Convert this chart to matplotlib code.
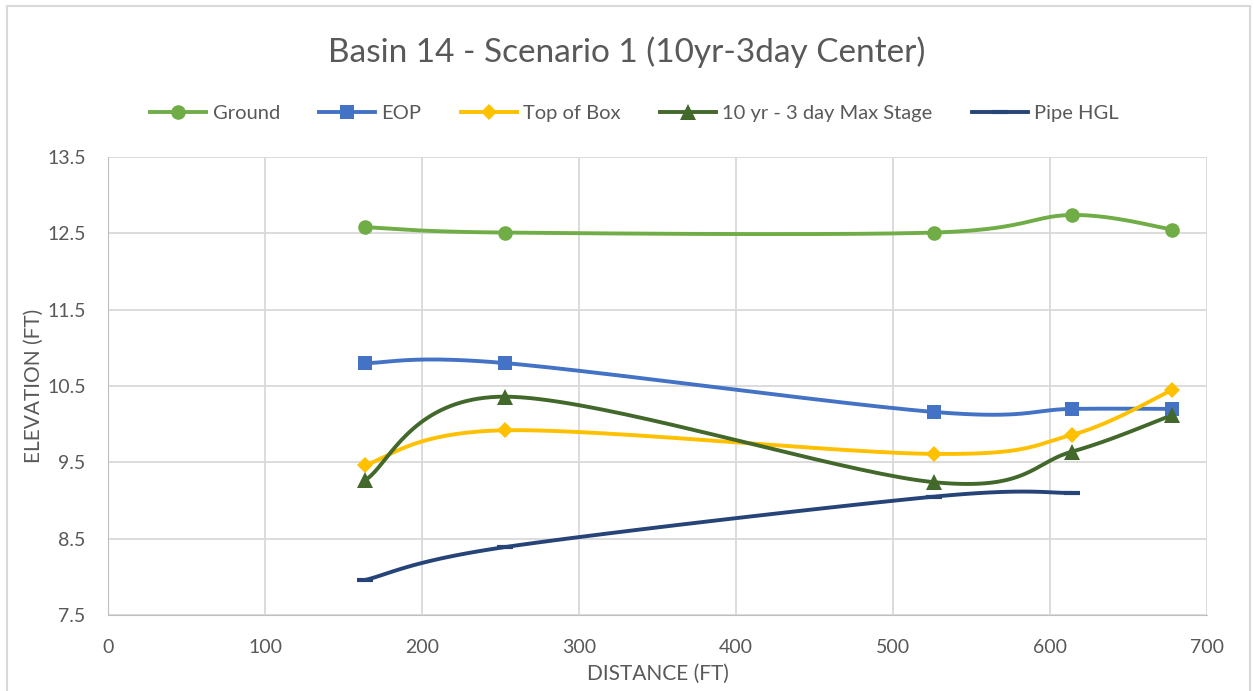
import numpy as np
import matplotlib
matplotlib.use("Agg")
import matplotlib.pyplot as plt
from matplotlib.lines import Line2D
from matplotlib.patches import Rectangle

plt.rcParams["font.family"] = ["Lato", "DejaVu Sans"]

dist = [164, 253, 526, 614, 678]
ground = [12.58, 12.51, 12.51, 12.74, 12.55]
eop = [10.80, 10.80, 10.16, 10.20, 10.20]
top_box = [9.47, 9.92, 9.61, 9.86, 10.45]
max_stage = [9.27, 10.36, 9.24, 9.64, 10.12]
hgl_dist = [164, 253, 526, 614]
pipe_hgl = [7.96, 8.39, 9.05, 9.10]

series = [
    ("Ground", dist, ground, "#70AD47", "o", 10.5),
    ("EOP", dist, eop, "#4472C4", "s", 10),
    ("Top of Box", dist, top_box, "#FFC000", "D", 8),
    ("10 yr - 3 day Max Stage", dist, max_stage, "#43682B", "^", 11),
    ("Pipe HGL", hgl_dist, pipe_hgl, "#264478", "_", 11),
]


def smooth(xs, ys, n=40):
    # Excel-style smoothed line: Catmull-Rom segments as cubic Beziers
    p = np.column_stack([xs, ys]).astype(float)
    out = []
    for i in range(len(p) - 1):
        p0 = p[i - 1] if i > 0 else p[i]
        p3 = p[i + 2] if i + 2 < len(p) else p[i + 1]
        c1 = p[i] + (p[i + 1] - p0) / 6
        c2 = p[i + 1] - (p3 - p[i]) / 6
        t = np.linspace(0, 1, n)[:, None]
        seg = ((1 - t) ** 3 * p[i] + 3 * (1 - t) ** 2 * t * c1
               + 3 * (1 - t) * t ** 2 * c2 + t ** 3 * p[i + 1])
        out.append(seg if i == 0 else seg[1:])
    out = np.vstack(out)
    return out[:, 0], out[:, 1]


fig = plt.figure(figsize=(12.54, 6.91), dpi=100)
fig.patches.append(Rectangle((7 / 1254, -0.05), 1243 / 1254, 1.05 - 6 / 691,
                             transform=fig.transFigure, fill=False,
                             ec="#D9D9D9", lw=1.5))
ax = fig.add_axes([0.0861, 0.110, 0.8764, 0.6628])

handles = []
for name, xs, ys, col, mk, ms in series:
    sx, sy = smooth(xs, ys)
    ax.plot(sx, sy, color=col, lw=2.8, solid_capstyle="round", zorder=3)
    mew = 3 if mk == "_" else 0
    ax.plot(xs, ys, ls="none", marker=mk, ms=ms, color=col, mew=mew, zorder=4)
    handles.append(Line2D([0], [0], color=col, lw=2.8, marker=mk, ms=ms,
                          mew=mew, label=name))

ax.set_xlim(0, 700)
ax.set_ylim(7.5, 13.5)
ax.set_xticks(np.arange(0, 701, 100))
ax.set_yticks(np.arange(7.5, 13.6, 1.0))
ax.grid(True, color="#D9D9D9", lw=1.3)
ax.set_axisbelow(True)
for s in ["top", "right"]:
    ax.spines[s].set_visible(False)
for s in ["left", "bottom"]:
    ax.spines[s].set_color("#BFBFBF")
ax.tick_params(length=0, labelsize=14, colors="#595959")
ax.tick_params(axis="x", pad=17)
ax.tick_params(axis="y", pad=16)

ax.set_xlabel("DISTANCE (FT)", fontsize=15, color="#595959", labelpad=6)
ax.set_ylabel("ELEVATION (FT)", fontsize=15, color="#595959", labelpad=2)

fig.text(0.5, 0.925, "Basin 14 - Scenario 1 (10yr-3day Center)", ha="center",
         va="center", fontsize=24, color="#595959")
fig.legend(handles=handles, loc="center", bbox_to_anchor=(0.506, 0.836),
           ncol=5, frameon=False, fontsize=14.5, handlelength=2.8,
           columnspacing=1.95, handletextpad=0.3, labelcolor="#595959")

fig.savefig("out.png", dpi=100)
